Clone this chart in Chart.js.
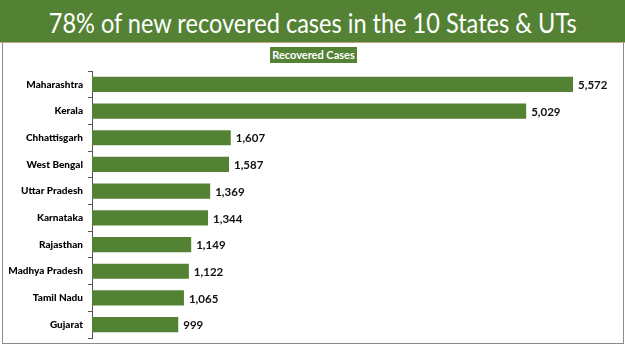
<!DOCTYPE html>
<html>
<head>
<meta charset="utf-8">
<script src="https://cdn.jsdelivr.net/npm/chart.js@4/dist/chart.umd.min.js"></script>
<style>
  html, body { margin: 0; padding: 0; background: #ffffff; }
  #wrap { position: relative; width: 625px; height: 351px; overflow: hidden; background: #fff; }
  #titlebar { position: absolute; left: 0; top: 0; width: 625px; height: 42px; background: #548235; text-align: center; }
  #titletext { display: inline-block; white-space: nowrap; color: #fff; font-family: Lato, "Open Sans", sans-serif;
    font-size: 27px; line-height: 27px; margin-top: 9px; transform-origin: center center; }
  #rule { position: absolute; left: 0; top: 42px; width: 625px; height: 1px; background: #c9a27e; }
  #panel { position: absolute; left: 2px; top: 43px; width: 620px; height: 300px; border: 1px solid #8a8a8a; border-top: none; }
  #legend { position: absolute; left: 270px; top: 47px; width: 87px; height: 16px; background: #548235;
    color: #fff; font-family: Lato, "Open Sans", sans-serif; font-weight: bold; font-size: 11px; line-height: 16px; text-align: center; }
  #cv { position: absolute; left: 0; top: 0; }
</style>
</head>
<body>
<div id="wrap">
  <div id="titlebar"><span id="titletext">78% of new recovered cases in the 10 States &amp; UTs</span></div>
  <div id="rule"></div>
  <div id="panel"></div>
  <div id="legend">Recovered Cases</div>
  <canvas id="cv" width="625" height="351"></canvas>
</div>
<script>
const states = ["Maharashtra", "Kerala", "Chhattisgarh", "West Bengal", "Uttar Pradesh",
  "Karnataka", "Rajasthan", "Madhya Pradesh", "Tamil Nadu", "Gujarat"];
const recoveredCases = [5572, 5029, 1607, 1587, 1369, 1344, 1149, 1122, 1065, 999];
const seriesName = "Recovered Cases";

// fit title to the reference width
(function () {
  const t = document.getElementById("titletext");
  const w = t.getBoundingClientRect().width;
  const target = 528;
  if (w > 0) t.style.transform = "scaleX(" + (target / w) + ")";
})();

const valueLabels = {
  id: "valueLabels",
  afterDatasetsDraw(chart) {
    const ctx = chart.ctx;
    const meta = chart.getDatasetMeta(0);
    ctx.save();
    ctx.font = "bold 11.5px Lato, 'Open Sans', sans-serif";
    ctx.fillStyle = "#111";
    ctx.textAlign = "left";
    ctx.textBaseline = "middle";
    meta.data.forEach((bar, i) => {
      ctx.fillText(recoveredCases[i].toLocaleString("en-US"), bar.x + 5, bar.y + 1);
    });
    ctx.restore();
  }
};

new Chart(document.getElementById("cv"), {
  type: "bar",
  data: {
    labels: states,
    datasets: [{
      label: seriesName,
      data: recoveredCases,
      backgroundColor: "#548235",
      borderWidth: 0,
      categoryPercentage: 1,
      barPercentage: 0.57
    }]
  },
  options: {
    indexAxis: "y",
    responsive: false,
    animation: false,
    layout: { padding: { top: 71, bottom: 13, right: 15, left: 0 } },
    plugins: { legend: { display: false }, tooltip: { enabled: false }, title: { display: false } },
    scales: {
      x: { display: false, min: 0, max: 6000 },
      y: {
        afterFit(scale) { scale.width = 92; },
        grid: { display: true, drawOnChartArea: false, drawTicks: true, tickLength: 4, color: "#555" },
        border: { display: true, color: "#555", width: 1 },
        ticks: { color: "#000", padding: 5, font: { family: "Lato, 'Open Sans', sans-serif", weight: "900", size: 10 } }
      }
    }
  },
  plugins: [valueLabels]
});
</script>
</body>
</html>
